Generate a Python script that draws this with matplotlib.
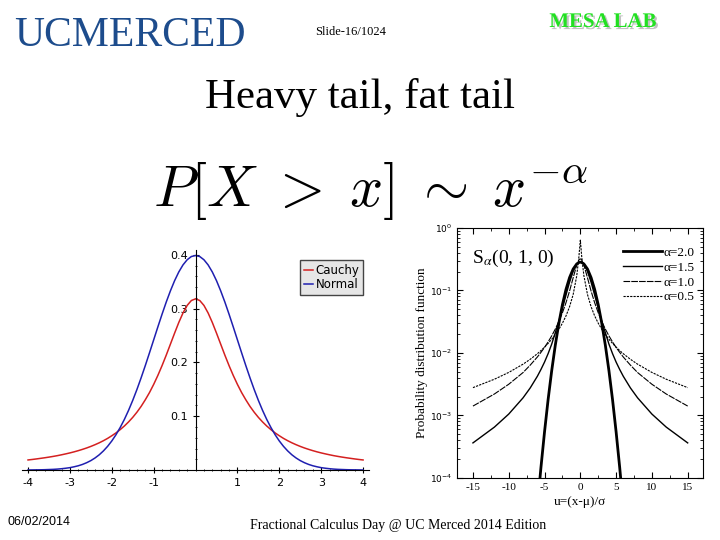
import matplotlib
matplotlib.use('Agg')
import matplotlib.pyplot as plt
import matplotlib.patheffects as pe
from matplotlib.ticker import MultipleLocator, LogLocator, NullFormatter

plt.rcParams['font.family'] = ['DejaVu Sans']
plt.rcParams['axes.unicode_minus'] = False

# left panel: densities (right half, curves are symmetric)
u_pdf = [0.0, 0.1, 0.2, 0.3, 0.4, 0.5, 0.6, 0.7, 0.8, 0.9, 1.0,
         1.1, 1.2, 1.3, 1.4, 1.5, 1.6, 1.7, 1.8, 1.9, 2.0,
         2.1, 2.2, 2.3, 2.4, 2.5, 2.6, 2.7, 2.8, 2.9, 3.0,
         3.1, 3.2, 3.3, 3.4, 3.5, 3.6, 3.7, 3.8, 3.9, 4.0]
normal_pdf = [0.3989, 0.3970, 0.3910, 0.3814, 0.3683, 0.3521, 0.3332, 0.3123, 0.2897, 0.2661, 0.2420,
              0.2179, 0.1942, 0.1714, 0.1497, 0.1295, 0.1109, 0.0940, 0.0790, 0.0656, 0.0540,
              0.0440, 0.0355, 0.0283, 0.0224, 0.0175, 0.0136, 0.0104, 0.0079, 0.0060, 0.0044,
              0.0033, 0.0024, 0.0017, 0.0012, 0.0009, 0.0006, 0.0004, 0.0003, 0.0002, 0.0001]
cauchy_pdf = [0.3183, 0.3152, 0.3061, 0.2920, 0.2744, 0.2546, 0.2341, 0.2136, 0.1941, 0.1759, 0.1592,
              0.1440, 0.1306, 0.1183, 0.1075, 0.0979, 0.0894, 0.0818, 0.0751, 0.0690, 0.0637,
              0.0588, 0.0545, 0.0506, 0.0471, 0.0439, 0.0410, 0.0384, 0.0360, 0.0338, 0.0318,
              0.0300, 0.0283, 0.0267, 0.0253, 0.0240, 0.0228, 0.0217, 0.0206, 0.0196, 0.0187]

# right panel: stable densities S_alpha(0,1,0) (right half)
u_stable = [0, 0.1, 0.2, 0.5, 1, 1.5, 2, 2.5, 3, 3.5, 4, 4.5, 5, 5.5, 6, 7, 8, 10, 12, 15]
pdf_a20 = [0.2821, 0.2814, 0.2793, 0.2650, 0.2197, 0.1607, 0.1038, 0.0591, 0.0297, 0.0132, 0.00517,
           0.00179, 0.000545, 0.000147, 3.5e-5, 1.4e-6, 3.2e-8, 3.9e-12, 6.6e-17, 1e-25]
pdf_a15 = [0.2873, 0.2862, 0.2831, 0.2622, 0.2022, 0.136, 0.0845, 0.052, 0.032, 0.021, 0.0138,
           0.00973, 0.00713, 0.00543, 0.00423, 0.00275, 0.00191, 0.00105, 0.00065, 0.000363]
pdf_a10 = [0.3183, 0.3152, 0.3061, 0.2546, 0.1592, 0.0979, 0.0637, 0.0439, 0.0318, 0.0240, 0.0187,
           0.0150, 0.01224, 0.0102, 0.0086, 0.00637, 0.00485, 0.00315, 0.00220, 0.00141]
pdf_a05 = [0.637, 0.47, 0.341, 0.171, 0.0861, 0.0549, 0.0391, 0.0299, 0.0238, 0.0196, 0.0165,
           0.0142, 0.01235, 0.0109, 0.0097, 0.0079, 0.0066, 0.00487, 0.00379, 0.00278]
alpha_labels = ['α=2.0', 'α=1.5', 'α=1.0', 'α=0.5']


def mirror(xh, yh):
    xs = [-v for v in xh[::-1]] + list(xh[1:])
    ys = list(yh[::-1]) + list(yh[1:])
    return xs, ys


fig = plt.figure(figsize=(7.2, 5.4), dpi=100)
serif = 'Liberation Serif'

# slide header / footer
fig.text(0.02, 0.915, 'UCMERCED', fontsize=30, family=serif, color='#1d4c8c', va='baseline')
fig.text(0.437, 0.935, 'Slide-16/1024', fontsize=9, family=serif, va='baseline')
fig.text(0.763, 0.95, 'MESA LAB', fontsize=15, family=serif, weight='bold', color='#22e022',
         va='baseline',
         path_effects=[pe.withSimplePatchShadow(offset=(1.5, -1.5), shadow_rgbFace='#999999', alpha=0.6)])
fig.text(0.5, 0.8, 'Heavy tail, fat tail', fontsize=31, family=serif, ha='center', va='baseline')
fig.text(0.213, 0.619, r'$P[X\;>\;x]\;\sim\;x^{-\alpha}$', fontsize=42, math_fontfamily='cm',
         va='baseline')
fig.text(0.011, 0.028, '06/02/2014', fontsize=9, family='Liberation Sans', va='baseline')
fig.text(0.347, 0.02, 'Fractional Calculus Day @ UC Merced 2014 Edition', fontsize=10,
         family=serif, va='baseline')

# left: Cauchy vs Normal
ax1 = fig.add_axes([0.0302, 0.1296, 0.4828, 0.4083])
xc, yc = mirror(u_pdf, cauchy_pdf)
xn, yn = mirror(u_pdf, normal_pdf)
ax1.plot(xc, yc, color='#d42020', lw=1.1, label='Cauchy')
ax1.plot(xn, yn, color='#1f1fb0', lw=1.1, label='Normal')
ax1.set_xlim(-4.15, 4.15)
ax1.set_ylim(0, 0.41)
ax1.spines['left'].set_position(('data', 0))
ax1.spines['bottom'].set_position(('data', 0))
ax1.spines['top'].set_visible(False)
ax1.spines['right'].set_visible(False)
ax1.set_xticks([-4, -3, -2, -1, 1, 2, 3, 4])
ax1.set_yticks([0.1, 0.2, 0.3, 0.4])
ax1.xaxis.set_minor_locator(MultipleLocator(0.2))
ax1.yaxis.set_minor_locator(MultipleLocator(0.02))
ax1.tick_params(which='major', direction='inout', length=4, labelsize=8)
ax1.tick_params(which='minor', direction='inout', length=2)
leg = ax1.legend(loc='upper right', bbox_to_anchor=(1.0, 0.98), fontsize=8.5, handlelength=0.8,
                 handletextpad=0.2, borderpad=0.35, labelspacing=0.1, fancybox=False,
                 framealpha=1, facecolor='#e6e6e6', edgecolor='#444444')

# right: stable distributions
ax2 = fig.add_axes([0.635, 0.115, 0.342, 0.463])
styles = [('-', 2.0), ('-', 1.0), ((0, (6, 1)), 0.8), ((0, (2, 1)), 0.8)]
for ys_half, lab, (ls, lw) in zip([pdf_a20, pdf_a15, pdf_a10, pdf_a05], alpha_labels, styles):
    xs, ys = mirror(u_stable, ys_half)
    ax2.plot(xs, ys, color='black', ls=ls, lw=lw, label=lab)
ax2.set_yscale('log')
ax2.set_xlim(-17.2, 17.2)
ax2.set_ylim(1e-4, 1)
ax2.set_xticks([-15, -10, -5, 0, 5, 10, 15])
ax2.xaxis.set_minor_locator(MultipleLocator(2.5))
ax2.yaxis.set_minor_locator(LogLocator(subs=range(2, 10)))
ax2.yaxis.set_minor_formatter(NullFormatter())
ax2.tick_params(which='both', direction='in', top=True, right=True)
ax2.tick_params(axis='x', labelsize=8)
ax2.tick_params(axis='y', labelsize=6.5)
ax2.tick_params(which='major', length=4)
ax2.tick_params(which='minor', length=2)
for lab in ax2.get_xticklabels():
    lab.set_family(serif)
ax2.set_xlabel('u=(x-μ)/σ', fontsize=9.5, family=serif, labelpad=3)
ax2.set_ylabel('Probability distribution function', fontsize=9.5, family=serif, labelpad=1)
ax2.text(0.06, 0.86, r'S$_\alpha$(0, 1, 0)', transform=ax2.transAxes, fontsize=14,
         family=serif, math_fontfamily='stix')
ax2.legend(loc='upper right', bbox_to_anchor=(0.965, 0.925), frameon=False,
           prop={'family': serif, 'size': 9.5}, handlelength=2.9, handletextpad=0.15,
           labelspacing=0.2, borderpad=0, borderaxespad=0)

plt.savefig('out.png', dpi=100)
